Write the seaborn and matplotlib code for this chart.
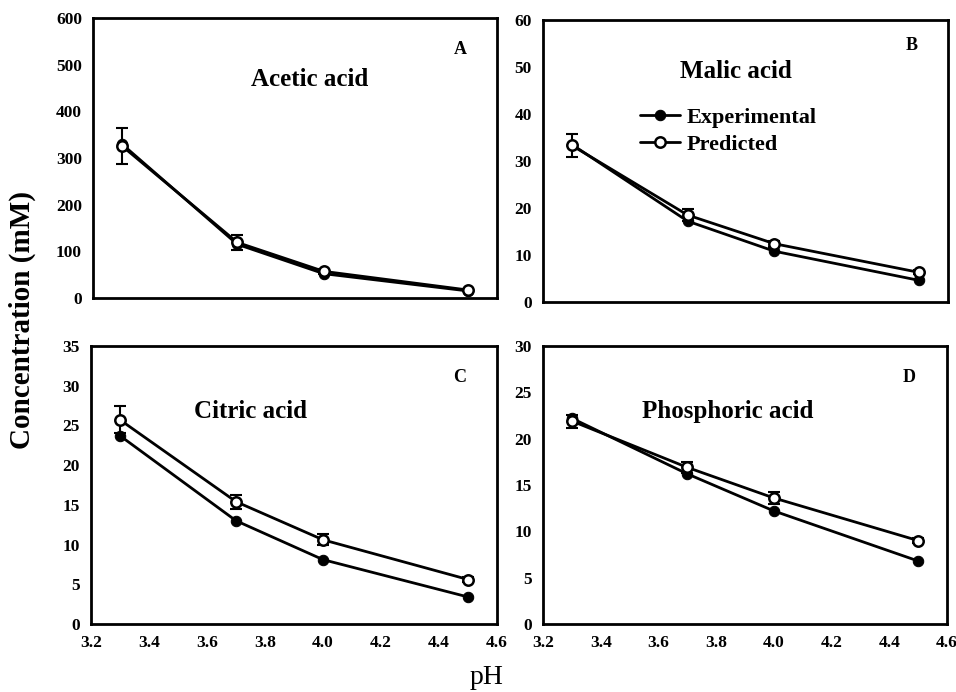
import matplotlib
matplotlib.use("Agg")
import matplotlib.pyplot as plt
import seaborn as sns
import pandas as pd
import numpy as np

sns.set_theme(style="white")
plt.rcParams['font.family'] = ['Liberation Serif', 'DejaVu Serif']
plt.rcParams['text.color'] = 'black'
plt.rcParams['axes.labelcolor'] = 'black'
plt.rcParams['xtick.color'] = 'black'
plt.rcParams['ytick.color'] = 'black'

ph = [3.3, 3.7, 4.0, 4.5]

acetic_exp = [330, 115, 52, 15]
acetic_pred = [326, 119, 57, 17]
acetic_err = [38, 17, 6, 3]

malic_exp = [33.5, 17.2, 10.8, 4.6]
malic_pred = [33.3, 18.5, 12.4, 6.3]
malic_err = [2.5, 1.2, 0.6, 0.4]

citric_exp = [23.7, 13.0, 8.1, 3.4]
citric_pred = [25.7, 15.4, 10.6, 5.6]
citric_err = [1.7, 0.9, 0.7, 0.3]

phos_exp = [22.2, 16.2, 12.2, 6.8]
phos_pred = [21.9, 16.9, 13.6, 9.0]
phos_err = [0.7, 0.6, 0.6, 0.3]

titles = ["Acetic acid", "Malic acid", "Citric acid", "Phosphoric acid"]
letters = ["A", "B", "C", "D"]
ylims = [(0, 600), (0, 60), (0, 35), (0, 30)]
ysteps = [100, 10, 5, 5]
xticks = [3.2, 3.4, 3.6, 3.8, 4.0, 4.2, 4.4, 4.6]

panels = [
    (acetic_exp, acetic_pred, acetic_err),
    (malic_exp, malic_pred, malic_err),
    (citric_exp, citric_pred, citric_err),
    (phos_exp, phos_pred, phos_err),
]

fig = plt.figure(figsize=(9.56, 6.92), dpi=100)
rects = [
    [0.0973, 0.5694, 0.4226, 0.4046],
    [0.568, 0.5636, 0.4236, 0.4075],
    [0.0952, 0.0983, 0.4247, 0.4017],
    [0.568, 0.0983, 0.4225, 0.4017],
]
title_pos = [(0.535, 0.779), (0.477, 0.816), (0.392, 0.763), (0.457, 0.763)]
letter_pos = [(0.908, 0.886), (0.911, 0.911), (0.909, 0.885), (0.907, 0.885)]

for i, (exp, pred, err) in enumerate(panels):
    ax = fig.add_axes(rects[i])
    df = pd.DataFrame({"pH": ph * 2, "val": exp + pred,
                       "series": ["Experimental"] * 4 + ["Predicted"] * 4})
    ax.errorbar(ph, pred, yerr=err, fmt='none', ecolor='black',
                elinewidth=1.5, capsize=4, capthick=1.5, zorder=2)
    sns.lineplot(data=df[df.series == "Experimental"], x="pH", y="val", ax=ax,
                 color="black", lw=2, marker='o', markersize=7.5,
                 markerfacecolor='black', markeredgecolor='black',
                 label="Experimental", zorder=3)
    sns.lineplot(data=df[df.series == "Predicted"], x="pH", y="val", ax=ax,
                 color="black", lw=2, marker='o', markersize=7.5,
                 markerfacecolor='white', markeredgecolor='black',
                 markeredgewidth=1.8, label="Predicted", zorder=4)
    ax.set_xlim(3.2, 4.6)
    ax.set_ylim(*ylims[i])
    ax.set_xticks(xticks)
    ax.set_yticks(np.arange(ylims[i][0], ylims[i][1] + 0.1, ysteps[i]))
    ax.set_xlabel("")
    ax.set_ylabel("")
    ax.tick_params(direction='in', length=5, width=1.5, colors='black',
                   labelsize=12.5)
    ax.tick_params(axis='y', pad=8)
    ax.tick_params(axis='x', pad=8)
    for lab in ax.get_xticklabels() + ax.get_yticklabels():
        lab.set_fontweight('bold')
    if i < 2:
        ax.tick_params(axis='x', labelbottom=False)
    else:
        ax.set_xticklabels([f"{t:.1f}" for t in xticks], fontweight='bold')
    for s in ax.spines.values():
        s.set_linewidth(2)
        s.set_color('black')
    ax.text(title_pos[i][0], title_pos[i][1], titles[i], transform=ax.transAxes,
            ha='center', va='center', fontsize=18, fontweight='bold')
    ax.text(letter_pos[i][0], letter_pos[i][1], letters[i], transform=ax.transAxes,
            ha='center', va='center', fontsize=13, fontweight='bold')
    if i == 1:
        ax.legend(loc='upper left', bbox_to_anchor=(0.24, 0.69),
                  frameon=False, handlelength=1.8, handletextpad=0.3,
                  borderaxespad=0, borderpad=0,
                  prop={'weight': 'bold', 'size': 16,
                        'family': 'Liberation Serif'},
                  labelspacing=0.3)
    else:
        lg = ax.get_legend()
        if lg:
            lg.remove()

fig.text(0.023, 0.538, "Concentration (mM)", rotation=90, ha='center', va='center',
         fontsize=21, fontweight='bold')
fig.text(0.509, 0.003, "pH", ha='center', va='bottom', fontsize=20)

fig.savefig("out.png", dpi=100)
